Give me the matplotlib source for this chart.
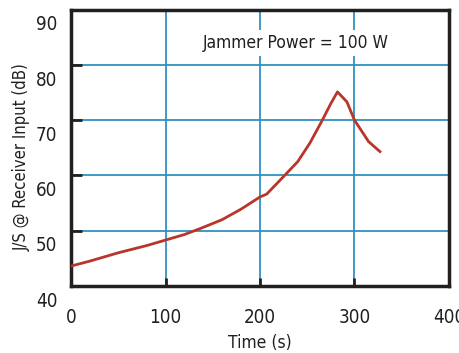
import matplotlib
matplotlib.use("Agg")
import matplotlib.pyplot as plt
from matplotlib.transforms import ScaledTranslation

# curve
time_s = [0, 20, 50, 80, 100, 120, 137, 150, 160, 180, 200, 207,
          225, 240, 253, 266, 275, 282, 292, 300, 315, 327]
js_db = [43.6, 44.5, 46.0, 47.3, 48.3, 49.3, 50.4, 51.3, 52.0, 53.9, 56.1, 56.6,
         59.8, 62.5, 65.9, 70.0, 73.0, 75.1, 73.3, 70.0, 66.1, 64.3]

x_ticks = [0, 100, 200, 300, 400]
y_ticks = [40, 50, 60, 70, 80, 90]
note = "Jammer Power = 100 W"

ink = "#231f20"
grid_blue = "#2f92c0"
curve_red = "#b8352a"

plt.rcParams['font.family'] = ['DejaVu Sans']
plt.rcParams['font.stretch'] = 'condensed'

fig = plt.figure(figsize=(4.59, 3.53), dpi=100)
ax = fig.add_axes([0.155, 0.19, 0.823, 0.783])

ax.plot(time_s, js_db, color=curve_red, lw=2.0, zorder=3)

ax.set_xlim(0, 400)
ax.set_ylim(40, 90)
ax.set_xticks(x_ticks)
ax.set_yticks(y_ticks)
ax.grid(True, color=grid_blue, lw=1.3, zorder=1)
ax.set_axisbelow(True)

for s in ax.spines.values():
    s.set_linewidth(2.5)
    s.set_color(ink)

ax.tick_params(axis='y', direction='in', length=8, width=2, colors=ink,
               labelsize=13.5, pad=10)
ax.tick_params(axis='x', direction='in', length=6, width=2, colors=ink,
               labelsize=13.5, pad=16)

# y labels sit below their tick in the original
for lab in ax.get_yticklabels():
    lab.set_transform(lab.get_transform() + ScaledTranslation(0, -9.5 / 72, fig.dpi_scale_trans))

ax.set_xlabel("Time (s)", fontsize=12.5, color=ink)
ax.set_ylabel("J/S @ Receiver Input (dB)", fontsize=12, color=ink)
ax.xaxis.set_label_coords(0.5, -0.175)
ax.yaxis.set_label_coords(-0.108, 0.467)

ax.text(238, 84.0, note, fontsize=12.5, color=ink, ha='center', va='center', zorder=4,
        bbox=dict(facecolor='white', edgecolor='none', pad=3))

fig.savefig("out.png", dpi=100)
